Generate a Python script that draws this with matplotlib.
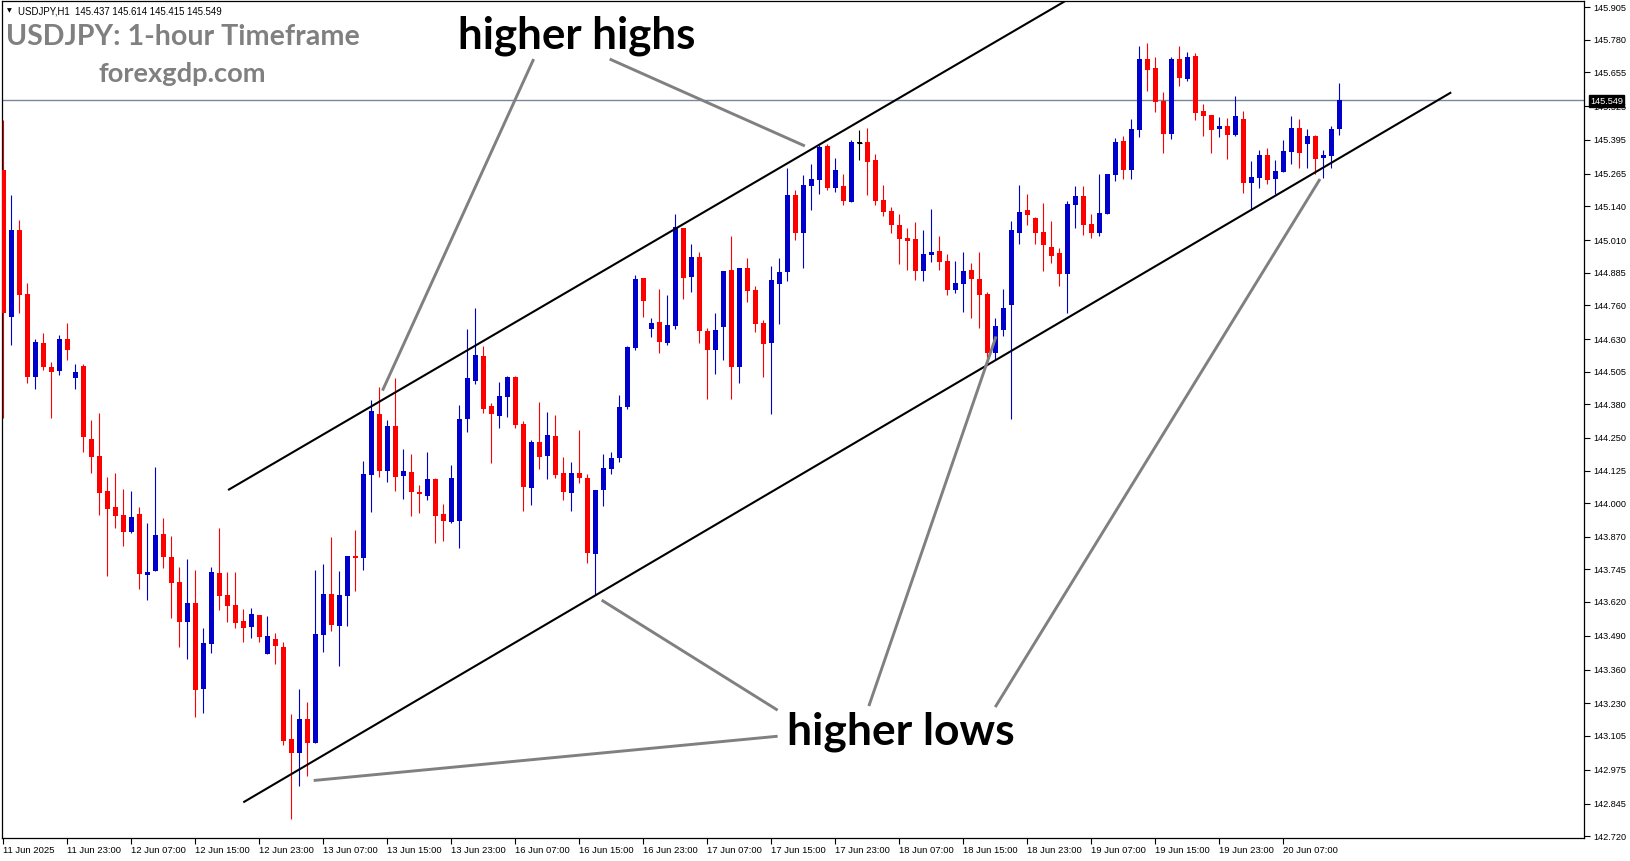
import numpy as np
import matplotlib
matplotlib.use("Agg")
import matplotlib.pyplot as plt

# USDJPY H1 candles (11 Jun 15:00 -> 20 Jun 14:00)
opens = [145.280, 144.715, 145.049, 144.803, 144.484, 144.615, 144.522, 144.507, 144.630, 144.480,
         144.526, 144.246, 144.181, 144.046, 143.985, 143.954, 143.889, 143.958, 143.723, 143.739,
         143.881, 143.792, 143.697, 143.543, 143.616, 143.285, 143.458, 143.731, 143.646, 143.608,
         143.546, 143.523, 143.569, 143.419, 143.477, 143.446, 143.093, 143.039, 143.170, 143.078,
         143.492, 143.650, 143.527, 143.643, 143.796, 143.789, 144.108, 144.342, 144.123, 144.296,
         144.104, 144.119, 144.042, 144.027, 144.092, 143.958, 143.927, 143.931, 144.323, 144.469,
         144.565, 144.373, 144.334, 144.407, 144.484, 144.304, 144.058, 144.234, 144.181, 144.257,
         144.115, 144.039, 144.115, 144.096, 143.804, 144.050, 144.131, 144.173, 144.369, 144.596,
         144.865, 144.669, 144.696, 144.615, 144.680, 145.057, 144.869, 144.945, 144.661, 144.588,
         144.676, 144.895, 144.522, 144.903, 144.818, 144.692, 144.615, 144.842, 144.888, 145.184,
         145.038, 145.218, 145.241, 145.372, 145.210, 145.218, 145.157, 145.383, 145.387, 145.318,
         145.164, 145.122, 145.068, 145.018, 145.015, 144.892, 144.953, 144.968, 144.930, 144.818,
         144.842, 144.895, 144.861, 144.803, 144.576, 144.665, 144.761, 145.038, 145.126, 145.095,
         145.041, 144.984, 144.961, 144.880, 145.145, 145.180, 145.072, 145.038, 145.111, 145.260,
         145.391, 145.280, 145.433, 145.706, 145.672, 145.545, 145.418, 145.706, 145.629, 145.718,
         145.506, 145.491, 145.437, 145.449, 145.414, 145.476, 145.230, 145.249, 145.337, 145.245,
         145.272, 145.349, 145.441, 145.380, 145.410, 145.326, 145.333, 145.437]
highs = [145.472, 145.184, 145.087, 144.845, 144.630, 144.653, 144.541, 144.646, 144.692, 144.534,
         144.534, 144.319, 144.346, 144.100, 144.115, 144.054, 144.046, 143.985, 143.923, 144.138,
         143.942, 143.873, 143.754, 143.785, 143.743, 143.520, 143.754, 143.904, 143.735, 143.735,
         143.593, 143.596, 143.569, 143.566, 143.500, 143.466, 143.189, 143.285, 143.235, 143.743,
         143.766, 143.869, 143.739, 143.796, 143.896, 144.161, 144.396, 144.446, 144.319, 144.480,
         144.208, 144.188, 144.069, 144.196, 144.096, 143.996, 144.146, 144.377, 144.669, 144.749,
         144.603, 144.384, 144.465, 144.488, 144.488, 144.315, 144.242, 144.388, 144.350, 144.338,
         144.177, 144.158, 144.281, 144.111, 144.050, 144.188, 144.196, 144.415, 144.603, 144.876,
         144.865, 144.711, 144.822, 144.799, 145.111, 145.057, 144.995, 144.965, 144.673, 144.730,
         144.892, 145.026, 144.903, 144.942, 144.834, 144.703, 144.911, 144.942, 145.287, 145.203,
         145.260, 145.303, 145.376, 145.380, 145.326, 145.264, 145.395, 145.433, 145.441, 145.341,
         145.222, 145.137, 145.111, 145.057, 145.080, 145.049, 145.130, 145.026, 144.957, 144.930,
         144.965, 144.922, 144.965, 144.811, 144.711, 144.822, 145.084, 145.222, 145.187, 145.099,
         145.153, 145.084, 144.980, 145.161, 145.218, 145.218, 145.111, 145.264, 145.264, 145.403,
         145.410, 145.476, 145.756, 145.768, 145.714, 145.579, 145.714, 145.756, 145.733, 145.729,
         145.533, 145.491, 145.483, 145.480, 145.564, 145.506, 145.314, 145.357, 145.364, 145.318,
         145.395, 145.487, 145.476, 145.437, 145.414, 145.357, 145.449, 145.614]
lows = [144.327, 144.607, 144.730, 144.461, 144.438, 144.511, 144.327, 144.492, 144.550, 144.438,
        144.196, 144.115, 143.954, 143.719, 143.904, 143.835, 143.885, 143.670, 143.627, 143.739,
        143.750, 143.558, 143.446, 143.400, 143.178, 143.193, 143.423, 143.589, 143.543, 143.520,
        143.466, 143.481, 143.466, 143.419, 143.381, 143.070, 142.786, 142.912, 142.951, 143.078,
        143.427, 143.508, 143.374, 143.527, 143.662, 143.743, 143.965, 144.100, 144.081, 144.046,
        144.015, 143.950, 143.961, 144.012, 143.846, 143.854, 143.923, 143.827, 144.273, 144.457,
        144.346, 144.154, 144.288, 144.330, 144.288, 143.969, 143.992, 144.131, 144.092, 144.096,
        144.012, 143.969, 144.077, 143.769, 143.646, 143.988, 144.111, 144.158, 144.361, 144.588,
        144.715, 144.638, 144.576, 144.607, 144.669, 144.784, 144.811, 144.615, 144.400, 144.496,
        144.550, 144.400, 144.461, 144.772, 144.657, 144.484, 144.342, 144.688, 144.853, 145.011,
        144.903, 145.126, 145.187, 145.203, 145.195, 145.145, 145.157, 145.318, 145.184, 145.145,
        145.103, 145.038, 144.918, 144.895, 144.857, 144.853, 144.926, 144.895, 144.799, 144.807,
        144.734, 144.711, 144.673, 144.546, 144.550, 144.642, 144.323, 144.995, 145.068, 144.995,
        144.892, 144.922, 144.834, 144.730, 145.057, 145.030, 145.018, 145.026, 145.111, 145.237,
        145.245, 145.245, 145.406, 145.583, 145.503, 145.345, 145.399, 145.602, 145.622, 145.472,
        145.410, 145.345, 145.406, 145.322, 145.410, 145.191, 145.126, 145.210, 145.226, 145.187,
        145.272, 145.303, 145.287, 145.287, 145.264, 145.249, 145.287, 145.415]
closes = [144.730, 145.049, 144.799, 144.484, 144.619, 144.522, 144.503, 144.630, 144.588, 144.503,
          144.254, 144.177, 144.039, 143.977, 143.950, 143.889, 143.946, 143.727, 143.735, 143.877,
          143.792, 143.693, 143.543, 143.616, 143.281, 143.462, 143.735, 143.643, 143.604, 143.539,
          143.520, 143.573, 143.485, 143.489, 143.450, 143.085, 143.039, 143.170, 143.078, 143.496,
          143.650, 143.531, 143.646, 143.796, 143.789, 144.111, 144.354, 144.123, 144.296, 144.100,
          144.123, 144.042, 144.035, 144.092, 143.950, 143.931, 144.096, 144.323, 144.480, 144.569,
          144.361, 144.342, 144.411, 144.484, 144.300, 144.062, 144.234, 144.177, 144.261, 144.108,
          144.042, 144.115, 144.096, 143.808, 144.050, 144.134, 144.173, 144.369, 144.599, 144.861,
          144.776, 144.692, 144.619, 144.684, 145.061, 144.865, 144.945, 144.661, 144.588, 144.665,
          144.892, 144.522, 144.903, 144.815, 144.688, 144.611, 144.857, 144.888, 145.184, 145.038,
          145.222, 145.245, 145.368, 145.210, 145.280, 145.161, 145.387, 145.383, 145.310, 145.161,
          145.118, 145.068, 145.015, 145.007, 144.892, 144.957, 144.965, 144.926, 144.818, 144.845,
          144.892, 144.861, 144.799, 144.576, 144.680, 144.749, 145.049, 145.118, 145.107, 145.038,
          144.991, 144.949, 144.880, 145.149, 145.180, 145.068, 145.038, 145.114, 145.264, 145.387,
          145.280, 145.437, 145.706, 145.664, 145.541, 145.418, 145.706, 145.633, 145.714, 145.499,
          145.487, 145.433, 145.449, 145.414, 145.487, 145.230, 145.253, 145.337, 145.241, 145.276,
          145.353, 145.441, 145.345, 145.410, 145.322, 145.337, 145.437, 145.549]

x_tick_idx = list(range(0, 161, 8))
x_tick_labels = ["11 Jun 2025", "11 Jun 23:00", "12 Jun 07:00", "12 Jun 15:00", "12 Jun 23:00",
                 "13 Jun 07:00", "13 Jun 15:00", "13 Jun 23:00", "16 Jun 07:00", "16 Jun 15:00",
                 "16 Jun 23:00", "17 Jun 07:00", "17 Jun 15:00", "17 Jun 23:00", "18 Jun 07:00",
                 "18 Jun 15:00", "18 Jun 23:00", "19 Jun 07:00", "19 Jun 15:00", "19 Jun 23:00",
                 "20 Jun 07:00"]
y_ticks = [145.905, 145.780, 145.655, 145.525, 145.395, 145.265, 145.140, 145.010, 144.885,
           144.760, 144.630, 144.505, 144.380, 144.250, 144.125, 144.000, 143.870, 143.745,
           143.620, 143.490, 143.360, 143.230, 143.105, 142.975, 142.845, 142.720]
last_price = 145.549

# channel lines (bar index, price)
upper_x, upper_y = [28.1, 132.7], [144.050, 145.928]
lower_x, lower_y = [30.0, 181.0], [142.850, 145.578]

# grey pointer lines from the labels to the swing points
pointers = [
    ([66.3, 47.4], [145.706, 144.432]),
    ([75.8, 100.2], [145.706, 145.372]),
    ([96.8, 38.8], [143.104, 142.934]),
    ([96.8, 74.8], [143.204, 143.627]),
    ([108.2, 124.1], [143.220, 144.640]),
    ([124.0, 164.6], [143.216, 145.245]),
]

W, H = 1631, 861
plt.rcParams['font.family'] = ['Liberation Sans', 'DejaVu Sans']

fig = plt.figure(figsize=(W / 100, H / 100), dpi=100)
fig.patch.set_facecolor('white')
ax = fig.add_axes([2.5 / W, 1 - 838 / H, (1584 - 2.5) / W, (838 - 1) / H])
ax.set_facecolor('white')

o = np.array(opens); h = np.array(highs); l = np.array(lows); c = np.array(closes)
x = np.arange(len(o))
cols = np.where(c > o, '#0000CD', np.where(c < o, '#FF0000', 'black'))

# bid line sits behind the candles
ax.axhline(last_price, color='#778899', lw=1, zorder=1)

ax.vlines(x, l, h, colors=cols, lw=0.8, zorder=2)
body_h = np.maximum(np.abs(c - o), 0.004)
ax.bar(x, body_h, bottom=np.minimum(o, c), width=0.62, color=cols, linewidth=0, zorder=3)
doji = c == o
ax.hlines(o[doji], x[doji] - 0.31, x[doji] + 0.31, colors='black', lw=0.8, zorder=3)

# trend lines + pointers
ax.plot(upper_x, upper_y, color='black', lw=1.5, zorder=5, solid_capstyle='butt')
ax.plot(lower_x, lower_y, color='black', lw=1.5, zorder=5, solid_capstyle='butt')
for px, py in pointers:
    ax.plot(px, py, color='#808080', lw=2.1, zorder=5, solid_capstyle='butt')

ax.set_xlim(-0.1, 197.6)
ax.set_ylim(142.713, 145.929)

ax.yaxis.tick_right()
ax.set_yticks(y_ticks)
ax.set_yticklabels([f"{v:.3f}" for v in y_ticks])
ax.tick_params(axis='y', direction='out', length=4, width=0.8, pad=3, labelsize=6.6, colors='black')
ax.set_xticks(x_tick_idx)
ax.set_xticklabels(x_tick_labels)
ax.tick_params(axis='x', direction='out', length=4, width=0.8, pad=2, labelsize=6.8, colors='black')
for t in ax.get_xticklabels():
    t.set_ha('left')
for s in ax.spines.values():
    s.set_color('black')
    s.set_linewidth(0.9)

# price tag on the axis
fig.text(1590 / W, 1 - 101 / H, f"{last_price:.3f}", color='white', fontsize=6.6, ha='left', va='center',
         bbox=dict(facecolor='black', edgecolor='black', boxstyle='square,pad=0.15'), zorder=10)

# header line
fig.text(7 / W, 1 - 11 / H, "\u25bc", fontsize=4.5, family='DejaVu Sans', ha='left', va='center')
fig.text(18 / W, 1 - 11 / H, "USDJPY,H1  145.437 145.614 145.415 145.549", fontsize=6.9, ha='left', va='center')

# big labels, sized to their width in the reference
fig.canvas.draw()
renderer = fig.canvas.get_renderer()

def fit(t, target_w):
    w = t.get_window_extent(renderer=renderer).width
    t.set_fontsize(t.get_fontsize() * target_w / w)

big = [
    ("USDJPY: 1-hour Timeframe", 6, 45, 354, '#808080'),
    ("forexgdp.com", 99, 82, 168, '#808080'),
    ("higher highs", 458, 48, 237, 'black'),
    ("higher lows", 787, 745, 227, 'black'),
]
for txt, px, py, tw, col in big:
    t = fig.text(px / W, 1 - py / H, txt, fontsize=20, family='Lato', weight='bold',
                 color=col, ha='left', va='baseline', zorder=10)
    fit(t, tw)

fig.savefig("out.png", dpi=100)
